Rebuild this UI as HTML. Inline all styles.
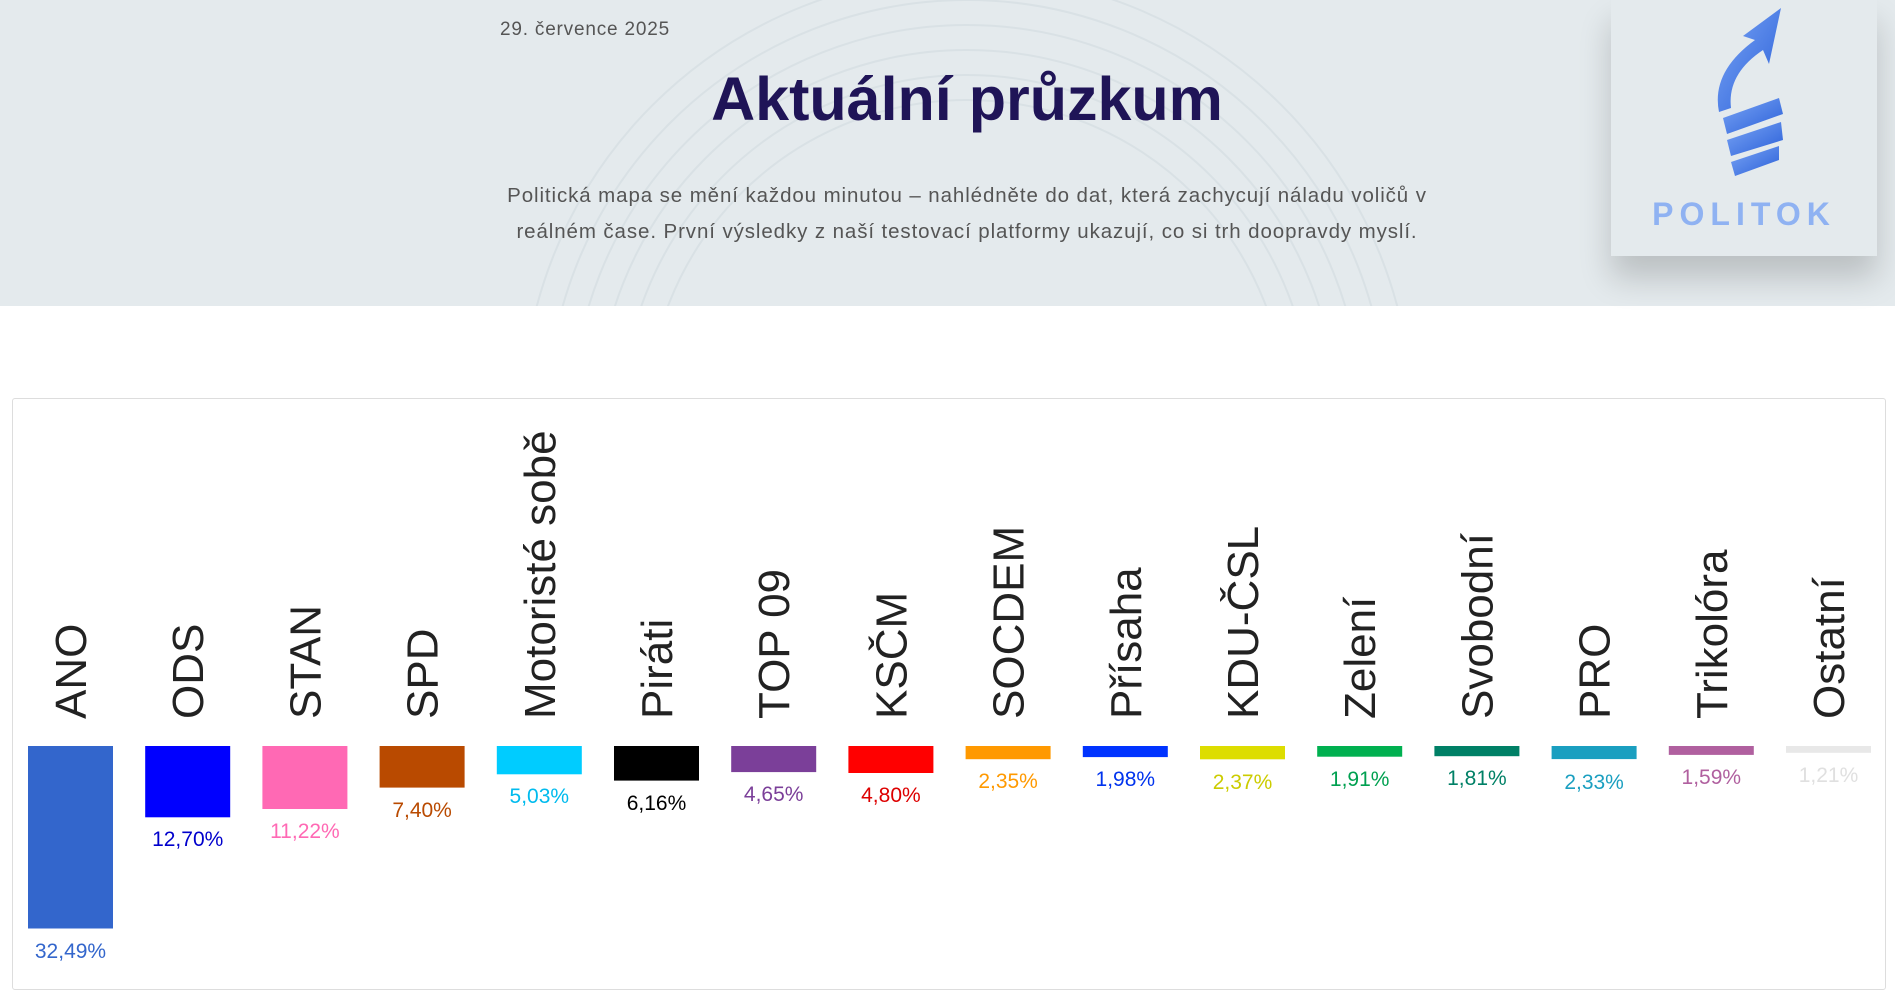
<!DOCTYPE html>
<html><head><meta charset="utf-8"><style>
html,body{margin:0;padding:0;width:1895px;height:998px;overflow:hidden;background:#fff;font-family:"Liberation Sans",sans-serif}
.hdr{position:absolute;left:0;top:0;width:1895px;height:306px;background:#e4eaed;overflow:hidden}
.date{position:absolute;left:500px;top:19px;font-size:19px;color:#555;letter-spacing:0.8px}
.title{position:absolute;left:0;width:1934px;top:64px;text-align:center;font-size:61px;font-weight:bold;color:#1f1457;letter-spacing:0px}
.para{position:absolute;left:417px;width:1100px;top:178px;text-align:center;font-size:20.5px;line-height:36px;color:#555;letter-spacing:0.9px;white-space:nowrap}
.logo{position:absolute;left:1611px;top:0;width:266px;height:256px;background:#e4eaed;box-shadow:0 22px 30px rgba(0,0,0,0.18)}
.pol{position:absolute;left:0;width:266px;top:196px;text-align:center;font-size:32px;font-weight:bold;color:#8fb2f2;letter-spacing:6px}
.box{position:absolute;left:12px;top:398px;width:1872px;height:590px;border:1px solid #ddd;border-radius:3px}
</style></head><body>
<div class="hdr">
<svg width="1895" height="306" style="position:absolute;left:0;top:0">
<g fill="none" stroke="#d9e1e5" stroke-width="2">
<circle cx="967" cy="420" r="320"/><circle cx="967" cy="420" r="345"/><circle cx="967" cy="420" r="370"/><circle cx="967" cy="420" r="395"/><circle cx="967" cy="420" r="420"/><circle cx="967" cy="420" r="445"/>
</g></svg>
<div class="date">29. července 2025</div>
<div class="title">Aktuální průzkum</div>
<div class="para">Politická mapa se mění každou minutou – nahlédněte do dat, která zachycují náladu voličů v<br>reálném čase. První výsledky z naší testovací platformy ukazují, co si trh doopravdy myslí.</div>
</div>
<div class="logo">
<svg width="266" height="190" style="position:absolute;left:0;top:0">
<defs><linearGradient id="g" x1="0" y1="0" x2="1" y2="1"><stop offset="0" stop-color="#7aa5f5"/><stop offset="1" stop-color="#2a5fd8"/></linearGradient></defs>
<path d="M170 8 L132 36 L144 40 Q100 72 108 112 L120 108 Q116 74 152 50 L158 64 Z" fill="url(#g)"/>
<path d="M112 118 L168 98 L172 114 L116 134 Z" fill="url(#g)"/>
<path d="M116 140 L170 122 L172 140 L120 156 Z" fill="url(#g)"/>
<path d="M120 162 L168 146 L168 160 L124 176 Z" fill="url(#g)"/>
</svg>
<div class="pol">POLITOK</div>
</div>
<div class="box"></div>
<svg width="1895" height="998" style="position:absolute;left:0;top:0" font-family="Liberation Sans, sans-serif">
<g>
<rect x="28" y="746" width="85" height="182.5" fill="#3366cc"/>
<rect x="145.2" y="746" width="85" height="71.3" fill="#0000ff"/>
<rect x="262.4" y="746" width="85" height="63" fill="#ff69b4"/>
<rect x="379.6" y="746" width="85" height="41.6" fill="#b94a00"/>
<rect x="496.8" y="746" width="85" height="28.3" fill="#00ccff"/>
<rect x="614" y="746" width="85" height="34.6" fill="#000000"/>
<rect x="731.2" y="746" width="85" height="26.1" fill="#7b3f99"/>
<rect x="848.4" y="746" width="85" height="27" fill="#ff0000"/>
<rect x="965.6" y="746" width="85" height="13.2" fill="#ff9900"/>
<rect x="1082.8" y="746" width="85" height="11.1" fill="#0033ff"/>
<rect x="1200" y="746" width="85" height="13.3" fill="#dddd00"/>
<rect x="1317.2" y="746" width="85" height="10.7" fill="#00b050"/>
<rect x="1434.4" y="746" width="85" height="10.2" fill="#008066"/>
<rect x="1551.6" y="746" width="85" height="13.1" fill="#1a9fc0"/>
<rect x="1668.8" y="746" width="85" height="8.9" fill="#b0609f"/>
<rect x="1786" y="746" width="85" height="6.8" fill="#e8e8e8"/>
</g>
<g font-size="44" fill="#222">
<text transform="translate(86,719) rotate(-90)">ANO</text>
<text transform="translate(203.2,719) rotate(-90)">ODS</text>
<text transform="translate(320.4,719) rotate(-90)">STAN</text>
<text transform="translate(437.6,719) rotate(-90)">SPD</text>
<text transform="translate(554.8,719) rotate(-90)">Motoristé sobě</text>
<text transform="translate(672,719) rotate(-90)">Piráti</text>
<text transform="translate(789.2,719) rotate(-90)">TOP 09</text>
<text transform="translate(906.4,719) rotate(-90)">KSČM</text>
<text transform="translate(1023.6,719) rotate(-90)">SOCDEM</text>
<text transform="translate(1140.8,719) rotate(-90)">Přísaha</text>
<text transform="translate(1258,719) rotate(-90)">KDU-ČSL</text>
<text transform="translate(1375.2,719) rotate(-90)">Zelení</text>
<text transform="translate(1492.4,719) rotate(-90)">Svobodní</text>
<text transform="translate(1609.6,719) rotate(-90)">PRO</text>
<text transform="translate(1726.8,719) rotate(-90)">Trikolóra</text>
<text transform="translate(1844,719) rotate(-90)">Ostatní</text>
</g>
<g font-size="21" text-anchor="middle">
<text x="70.5" y="958" fill="#3366cc">32,49%</text>
<text x="187.7" y="846" fill="#0000cc">12,70%</text>
<text x="304.9" y="838" fill="#ff69b4">11,22%</text>
<text x="422.1" y="817" fill="#b94a00">7,40%</text>
<text x="539.3" y="803" fill="#00bbee">5,03%</text>
<text x="656.5" y="810" fill="#000">6,16%</text>
<text x="773.7" y="801" fill="#7b3f99">4,65%</text>
<text x="890.9" y="802" fill="#dd0000">4,80%</text>
<text x="1008.1" y="788" fill="#ff9900">2,35%</text>
<text x="1125.3" y="786" fill="#0033ee">1,98%</text>
<text x="1242.5" y="789" fill="#cccc00">2,37%</text>
<text x="1359.7" y="786" fill="#00a050">1,91%</text>
<text x="1476.9" y="785" fill="#008066">1,81%</text>
<text x="1594.1" y="789" fill="#1a9fc0">2,33%</text>
<text x="1711.3" y="784" fill="#b0609f">1,59%</text>
<text x="1828.5" y="782" fill="#e0e0e0">1,21%</text>
</g>
</svg>
</body></html>
